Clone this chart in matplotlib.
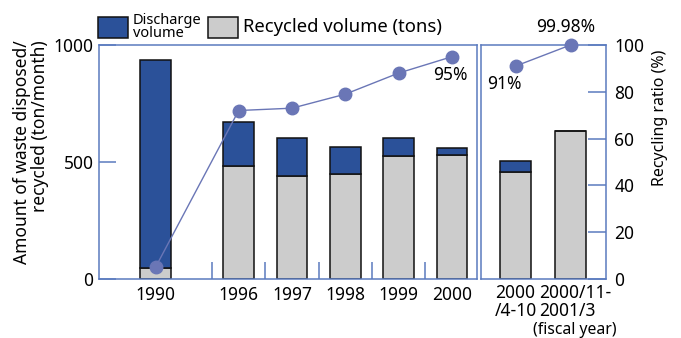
import matplotlib
matplotlib.use("Agg")
import matplotlib.pyplot as plt
from matplotlib.patches import Rectangle

plt.rcParams['font.family'] = ['Noto Sans', 'DejaVu Sans']

# Data
left_labels = ["1990", "1996", "1997", "1998", "1999", "2000"]
left_pos = [0, 1.56, 2.56, 3.56, 4.56, 5.56]
left_total = [936, 671, 602, 564, 602, 560]
left_recycled = [47, 483, 440, 449, 526, 530]
left_ratio = [5, 72, 73, 79, 88, 95]

right_labels = ["2000\n/4-10", "2000/11-\n2001/3"]
right_pos = [0, 1]
right_total = [504, 633]
right_recycled = [457, 632]
right_ratio = [91, 100]

BLUE = "#2b5199"
GREY = "#cccccc"
SPINE = "#5b7bbf"
LINE = "#6a76b6"

fig = plt.figure(figsize=(6.81, 3.38), dpi=100)
ax1 = fig.add_axes([99/681, 1-279/338, (477-99)/681, (279-45)/338])
ax2 = fig.add_axes([481/681, 1-279/338, (606-481)/681, (279-45)/338])

W = 0.57
def draw(ax, pos, total, rec, W):
    dis = [t - r for t, r in zip(total, rec)]
    ax.bar(pos, rec, width=W, color=GREY, edgecolor="#111111", linewidth=1.1, zorder=2)
    ax.bar(pos, dis, bottom=rec, width=W, color=BLUE, edgecolor="#111111", linewidth=1.1, zorder=2)

draw(ax1, left_pos, left_total, left_recycled, W)
draw(ax2, right_pos, right_total, right_recycled, W * 53.3 / 55)

for ax in (ax1, ax2):
    ax.set_ylim(0, 1000)
    for s in ax.spines.values():
        s.set_color(SPINE)
        s.set_linewidth(1.1)

ax1.set_xlim(-1.06, 6.03)
ax2.set_xlim(-0.63, 1.645)

# left ticks
ax1.set_yticks([0, 500, 1000])
ax1.tick_params(axis='y', direction='in', length=12, color=SPINE, labelsize=12.5, pad=4, width=1.1)
ax1.set_xticks(left_pos)
ax1.set_xticklabels(left_labels, fontsize=12.5)
ax1.tick_params(axis='x', which='major', length=0, pad=5)
ax1.set_xticks([p - 0.5 for p in left_pos[1:]], minor=True)
ax1.tick_params(axis='x', which='minor', direction='in', length=12, color=SPINE, width=1.1)

ax2.set_yticks([])
ax2.set_xticks(right_pos)
ax2.set_xticklabels(["", ""])
ax2.tick_params(axis='x', length=0, pad=5)
ax2.text(right_pos[0], -0.022, right_labels[0], transform=ax2.get_xaxis_transform(),
         ha='center', va='top', multialignment='center', fontsize=12.5, linespacing=1.0)
ax2.text(right_pos[1] + 0.08, -0.022, right_labels[1], transform=ax2.get_xaxis_transform(),
         ha='center', va='top', multialignment='left', fontsize=12.5, linespacing=1.0)

# ratio axes
r1 = ax1.twinx()
r1.set_ylim(0, 100)
r1.set_yticks([])
r1.plot(left_pos, left_ratio, color=LINE, lw=1, marker='o', ms=9, zorder=5)
for s in r1.spines.values():
    s.set_visible(False)

r2 = ax2.twinx()
r2.set_ylim(0, 100)
r2.set_yticks(range(0, 101, 20))
r2.tick_params(axis='y', direction='in', length=13, color=SPINE, labelsize=12.5, pad=6, width=1.1)
r2.plot(right_pos, right_ratio, color=LINE, lw=1, marker='o', ms=9, zorder=5, clip_on=False)
for s in r2.spines.values():
    s.set_visible(False)

r1.text(left_pos[-1] + 0.3, left_ratio[-1] - 4, "95%", ha='right', va='top', fontsize=12.5)
r2.text(right_pos[0] - 0.52, right_ratio[0] - 4, "91%", ha='left', va='top', fontsize=12.5)
r2.text(right_pos[1] - 0.08, right_ratio[1] + 4, "99.98%", ha='center', va='bottom', fontsize=12.5, clip_on=False)

fig.text(31/681, 1-152.5/338, "Amount of waste disposed/\nrecycled (ton/month)", rotation=90,
         ha='center', va='center', multialignment='right', fontsize=12.5, linespacing=1.0)
fig.text(660/681, 1-118/338, "Recycling ratio (%)", rotation=90,
         ha='center', va='center', fontsize=11.5)

fig.text(575/681, 1-330.5/338, "(fiscal year)", ha='center', va='center', fontsize=11.3)

# legend
fig.patches.append(Rectangle((98/681, 1-38/338), 30/681, 21/338, transform=fig.transFigure,
                             facecolor=BLUE, edgecolor="#111111", lw=1.1))
fig.text(133/681, 1-27/338, "Discharge\nvolume", fontsize=10.5, va='center', ha='left', linespacing=0.85)
fig.patches.append(Rectangle((208/681, 1-38/338), 30/681, 21/338, transform=fig.transFigure,
                             facecolor=GREY, edgecolor="#111111", lw=1.1))
fig.text(243/681, 1-27/338, "Recycled volume (tons)", fontsize=13.3, va='center', ha='left')

fig.savefig("out.png", dpi=100)
